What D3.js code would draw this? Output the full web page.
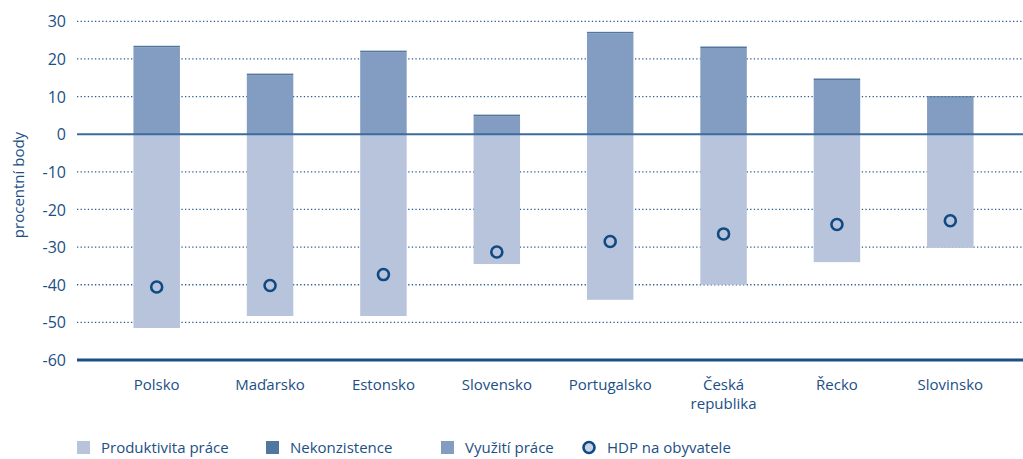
<!DOCTYPE html>
<html><head><meta charset="utf-8">
<script src="https://cdn.jsdelivr.net/npm/d3@7"></script>
<style>body{margin:0;background:#fff}svg{display:block}text{font-family:"Open Sans",sans-serif;fill:#1b4f85}</style>
</head><body><svg id="c" width="1023" height="459"></svg>
<script>
const categories = ["Polsko","Maďarsko","Estonsko","Slovensko","Portugalsko","Česká republika","Řecko","Slovinsko"];
const produktivita = [-51.5,-48.3,-48.3,-34.5,-44.0,-40.0,-34.0,-30.2];
const nekonzistence = [0.4,0.4,0.4,0.4,0.4,0.4,0.4,0.4];
const vyuziti = [23.1,15.7,21.8,4.8,26.8,22.9,14.4,9.7];
const hdp = [-40.6,-40.2,-37.3,-31.3,-28.5,-26.5,-24.0,-23.0];
const yTicks = [30,20,10,0,-10,-20,-30,-40,-50,-60];
const seriesNames = ["Produktivita práce","Nekonzistence","Využití práce","HDP na obyvatele"];
const colors = ["#b8c4dc","#52779f","#829dc1"];

const svg = d3.select("#c");
const y = d3.scaleLinear().domain([-60,30]).range([360,21.3]);
const x = d3.scaleBand().domain(categories).range([100,1007]).paddingInner(0.59).paddingOuter(0.295);
const gx0 = 77, gx1 = 1023;

// grid
const grid = svg.append("g");
yTicks.filter(t=>t!==0 && t!==-60).forEach(t=>{
  grid.append("line").attr("x1",gx0).attr("x2",gx1).attr("y1",y(t)).attr("y2",y(t))
    .attr("stroke","#2a5d92").attr("stroke-width",1.3).attr("stroke-dasharray","1.3,2.3");
});
// y axis labels
const yAxis = d3.axisLeft(y).tickValues(yTicks).tickSize(0).tickPadding(0).tickFormat(d=>String(d));
const ga = svg.append("g").attr("transform","translate(66,0)").call(yAxis);
ga.select(".domain").remove();
ga.selectAll("text").style("font-size","16px").attr("fill","#1b4f85").attr("dy","0.35em");

// bars
const bw = x.bandwidth();
categories.forEach((c,i)=>{
  svg.append("rect").attr("x",x(c)).attr("width",bw).attr("y",y(0)).attr("height",y(produktivita[i])-y(0)).attr("fill",colors[0]);
  svg.append("rect").attr("x",x(c)).attr("width",bw).attr("y",y(vyuziti[i])).attr("height",y(0)-y(vyuziti[i])).attr("fill",colors[2]);
  const top = vyuziti[i]+nekonzistence[i];
  svg.append("rect").attr("x",x(c)).attr("width",bw).attr("y",y(top)).attr("height",y(vyuziti[i])-y(top)).attr("fill",colors[1]);
});
// zero line and bottom line
svg.append("line").attr("x1",gx0).attr("x2",gx1).attr("y1",y(0)).attr("y2",y(0)).attr("stroke","#3b6c9b").attr("stroke-width",2);
svg.append("line").attr("x1",gx0).attr("x2",gx1).attr("y1",y(-60)).attr("y2",y(-60)).attr("stroke","#1b4f85").attr("stroke-width",3);
// points
categories.forEach((c,i)=>{
  svg.append("circle").attr("cx",x(c)+bw/2).attr("cy",y(hdp[i])).attr("r",5.5)
    .attr("fill","none").attr("stroke","#0f4a82").attr("stroke-width",2.6);
});
// x labels
categories.forEach((c,i)=>{
  const t = svg.append("text").attr("x",x(c)+bw/2).attr("y",390).attr("text-anchor","middle").style("font-size","15px");
  const parts = c==="Česká republika" ? ["Česká","republika"] : [c];
  parts.forEach((p,j)=>t.append("tspan").attr("x",x(c)+bw/2).attr("dy",j?19:0).text(p));
});
// y title
svg.append("text").attr("transform","translate(24,185) rotate(-90)").attr("text-anchor","middle").style("font-size","15px").text("procentní body");

// legend
const lg = svg.append("g");
const lx = [77,266,441,583];
seriesNames.forEach((n,i)=>{
  if(i<3) lg.append("rect").attr("x",lx[i]).attr("y",441).attr("width",13).attr("height",13).attr("fill",colors[i]);
  else lg.append("circle").attr("cx",lx[i]+6).attr("cy",447.5).attr("r",5.5).attr("fill","#c9d3e6").attr("stroke","#0f4a82").attr("stroke-width",2.6);
  lg.append("text").attr("x",lx[i]+(i<3?24:24)).attr("y",453).style("font-size","15px").text(n);
});
</script></body></html>
